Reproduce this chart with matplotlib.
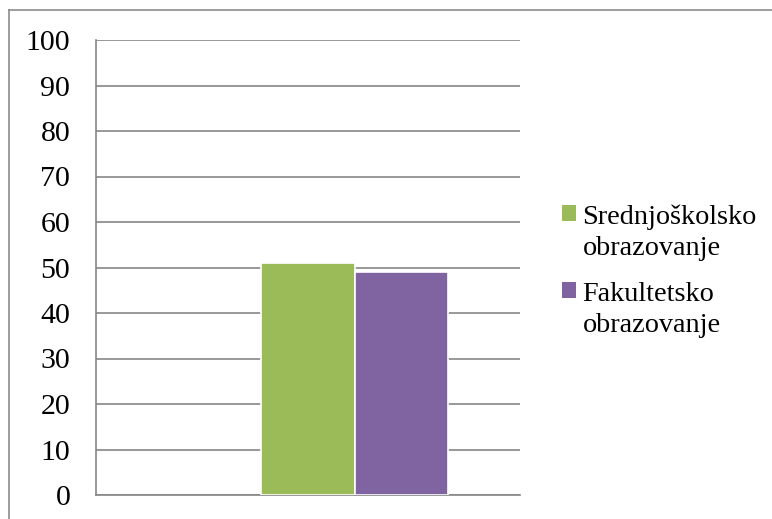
import matplotlib
matplotlib.use("Agg")
import matplotlib.pyplot as plt
from matplotlib.patches import Patch
from matplotlib.lines import Line2D

series = ["Srednjoškolsko\nobrazovanje", "Fakultetsko\nobrazovanje"]
values = [51, 49]
colors = ["#9BBB59", "#8064A2"]
yticks = list(range(0, 101, 10))

plt.rcParams['font.family'] = ['Liberation Serif', 'DejaVu Serif']

fig = plt.figure(figsize=(7.72, 5.19), dpi=100)
ax = fig.add_axes([96/772, 1-495/519, (520-96)/772, (495-40)/519])

w = 0.4
offsets = [-w/2, w/2]
for v, c, off, lab in zip(values, colors, offsets, series):
    ax.bar(off, v, width=w, color=c, edgecolor="white", linewidth=1.2, label=lab, zorder=3)

ax.set_ylim(0, 100)
ax.set_xlim(-1.106, 0.708)
ax.set_yticks(yticks)
ax.set_xticks([])
ax.tick_params(axis='y', length=0, pad=18.5, labelsize=21.5, colors='black')
ax.grid(axis='y', color='#868686', linewidth=1.2, zorder=0)
for s in ['top', 'right']:
    ax.spines[s].set_visible(False)
for s in ['left', 'bottom']:
    ax.spines[s].set_color('#868686')
    ax.spines[s].set_linewidth(1.2)

handles = [Patch(facecolor=c, edgecolor='none') for c in colors]
leg = fig.legend(handles, series, loc='upper left', bbox_to_anchor=(562/772, 1-205/519),
                 frameon=False, fontsize=20.3, handlelength=0.48, handleheight=0.48,
                 handletextpad=0.25, labelspacing=0.75, borderpad=0, borderaxespad=0)
for t in leg.get_texts():
    t.set_linespacing(1.3)
for col in leg._legend_handle_box.get_children():
    for hp in col.get_children():
        hp.align = "top"

# outer chart border (left and top visible)
fig.add_artist(Line2D([9/772, 9/772], [0, 1-10/519], transform=fig.transFigure, color='#8c8c8c', linewidth=1.2))
fig.add_artist(Line2D([9/772, 1], [1-10/519, 1-10/519], transform=fig.transFigure, color='#8c8c8c', linewidth=1.2))

fig.savefig("out.png", dpi=100)
